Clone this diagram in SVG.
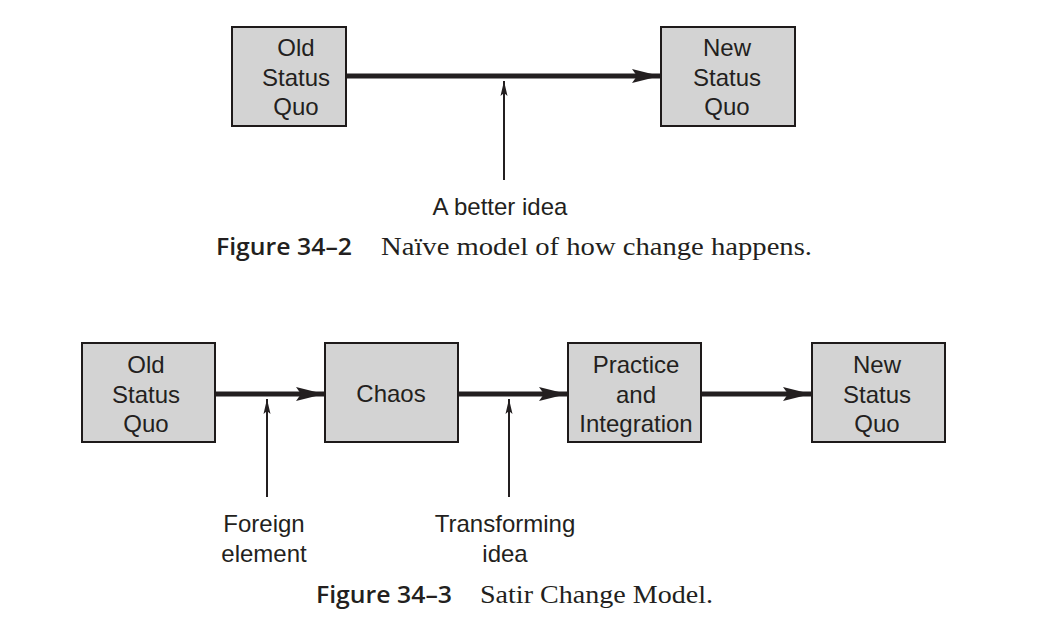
<svg xmlns="http://www.w3.org/2000/svg" width="1046" height="632" viewBox="0 0 1046 632">
  <defs>
    <style>
      .box { fill: #d3d3d3; stroke: #1e1a1a; stroke-width: 2; }
      .lbl { font-family: "Liberation Sans", Arial, sans-serif; font-size: 24px; fill: #231f20; text-anchor: middle; }
      .flow { stroke: #231f20; stroke-width: 5; fill: none; }
      .hint { stroke: #231f20; stroke-width: 2; fill: none; }
      .capnum { font-family: "Open Sans", "Liberation Sans", sans-serif; font-weight: 600; font-size: 23px; fill: #231f20; }
      .captxt { font-family: "Liberation Serif", "Times New Roman", serif; font-size: 25px; fill: #231f20; }
    </style>
    <marker id="bigHead" markerUnits="userSpaceOnUse" markerWidth="30" markerHeight="16" refX="28" refY="8" orient="auto">
      <path d="M0,1 L28,8 L0,15 L5,8 Z" fill="#231f20"/>
    </marker>
    <marker id="smallHead" markerUnits="userSpaceOnUse" markerWidth="16" markerHeight="10" refX="15" refY="4" orient="auto">
      <path d="M0,0.5 L15,4 L0,7.5 L3,4 Z" fill="#231f20"/>
    </marker>
  </defs>
  <rect width="1046" height="632" fill="#ffffff"/>

  <!-- Figure 34-2: naive model -->
  <g id="connectors-naive">
    <line class="flow" x1="347" y1="76" x2="660" y2="76" marker-end="url(#bigHead)"/>
    <line class="hint" x1="504" y1="180" x2="504" y2="81" marker-end="url(#smallHead)"/>
  </g>
  <g id="naive-old">
    <rect class="box" x="232" y="27" width="114" height="99"/>
    <text class="lbl" x="296" y="56">Old</text>
    <text class="lbl" x="296" y="86">Status</text>
    <text class="lbl" x="296" y="115">Quo</text>
  </g>
  <g id="naive-new">
    <rect class="box" x="661" y="27" width="134" height="99"/>
    <text class="lbl" x="727" y="56">New</text>
    <text class="lbl" x="727" y="86">Status</text>
    <text class="lbl" x="727" y="115">Quo</text>
  </g>
  <g id="naive-idea">
    <text class="lbl" x="500" y="215">A better idea</text>
  </g>
  <g id="caption-34-2">
    <text class="capnum" x="216" y="255" textLength="136" lengthAdjust="spacingAndGlyphs">Figure 34–2</text>
    <text class="captxt" x="381" y="255" textLength="431" lengthAdjust="spacingAndGlyphs">Naïve model of how change happens.</text>
  </g>

  <!-- Figure 34-3: Satir change model -->
  <g id="connectors-satir">
    <line class="flow" x1="216" y1="394" x2="324" y2="394" marker-end="url(#bigHead)"/>
    <line class="flow" x1="459" y1="394" x2="567" y2="394" marker-end="url(#bigHead)"/>
    <line class="flow" x1="702" y1="394" x2="811" y2="394" marker-end="url(#bigHead)"/>
    <line class="hint" x1="267" y1="497" x2="267" y2="399" marker-end="url(#smallHead)"/>
    <line class="hint" x1="509" y1="497" x2="509" y2="399" marker-end="url(#smallHead)"/>
  </g>
  <g id="satir-old">
    <rect class="box" x="82" y="343" width="133" height="99"/>
    <text class="lbl" x="146" y="373">Old</text>
    <text class="lbl" x="146" y="403">Status</text>
    <text class="lbl" x="146" y="432">Quo</text>
  </g>
  <g id="satir-chaos">
    <rect class="box" x="325" y="343" width="133" height="99"/>
    <text class="lbl" x="391" y="402">Chaos</text>
  </g>
  <g id="satir-practice">
    <rect class="box" x="568" y="343" width="133" height="99"/>
    <text class="lbl" x="636" y="373">Practice</text>
    <text class="lbl" x="636" y="403">and</text>
    <text class="lbl" x="636" y="432">Integration</text>
  </g>
  <g id="satir-new">
    <rect class="box" x="812" y="343" width="133" height="99"/>
    <text class="lbl" x="877" y="373">New</text>
    <text class="lbl" x="877" y="403">Status</text>
    <text class="lbl" x="877" y="432">Quo</text>
  </g>
  <g id="satir-foreign">
    <text class="lbl" x="264" y="532">Foreign</text>
    <text class="lbl" x="264" y="562">element</text>
  </g>
  <g id="satir-transforming">
    <text class="lbl" x="505" y="532">Transforming</text>
    <text class="lbl" x="505" y="562">idea</text>
  </g>
  <g id="caption-34-3">
    <text class="capnum" x="316" y="603" textLength="136" lengthAdjust="spacingAndGlyphs">Figure 34–3</text>
    <text class="captxt" x="480" y="603" textLength="233" lengthAdjust="spacingAndGlyphs">Satir Change Model.</text>
  </g>
</svg>
